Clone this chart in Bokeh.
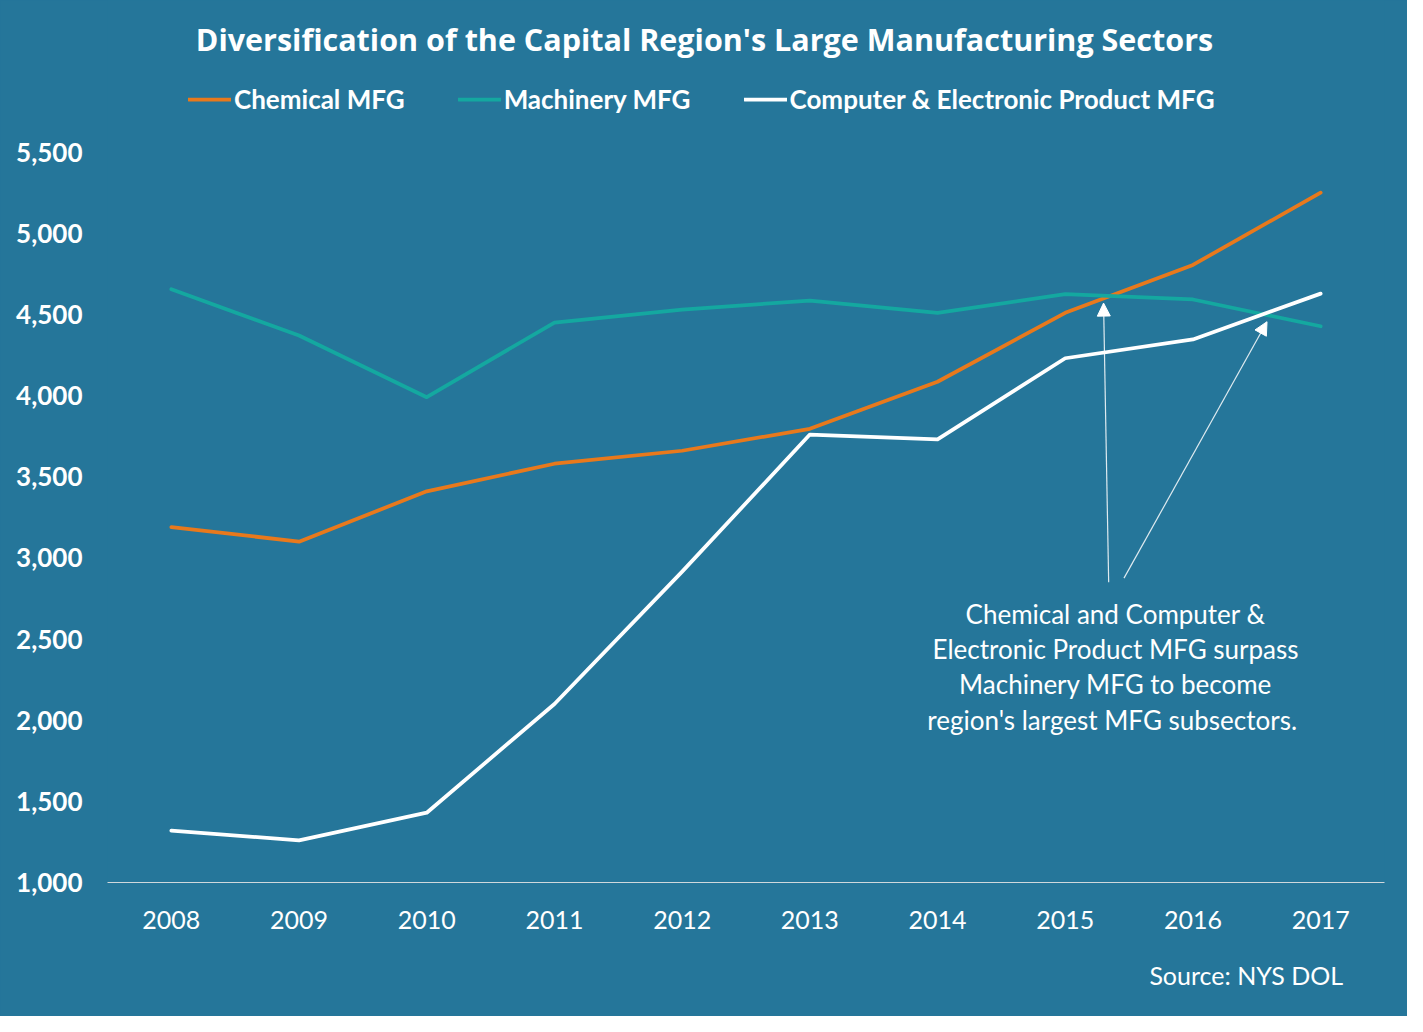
from bokeh.plotting import figure
from bokeh.models import (Range1d, FixedTicker, NumeralTickFormatter, Legend,
                          LegendItem, Label, Arrow, NormalHead, Title)
from bokeh.embed import file_html
from bokeh.resources import INLINE

# ---------------- data ----------------
years = [2008, 2009, 2010, 2011, 2012, 2013, 2014, 2015, 2016, 2017]
chemical = [3190, 3100, 3410, 3580, 3660, 3795, 4085, 4510, 4805, 5250]
machinery = [4655, 4370, 3990, 4450, 4530, 4585, 4510, 4625, 4592, 4427]
computer = [1320, 1260, 1430, 2100, 2915, 3760, 3730, 4230, 4346, 4628]
y_ticks = [1000, 1500, 2000, 2500, 3000, 3500, 4000, 4500, 5000, 5500]
series_names = ["Chemical MFG", "Machinery MFG", "Computer & Electronic Product MFG"]
title_text = "Diversification of the Capital Region's Large Manufacturing Sectors"
note_lines = ["Chemical and Computer &",
              "Electronic Product MFG surpass",
              "Machinery MFG to become",
              "region's largest MFG  subsectors."]
source_text = "Source:  NYS DOL"
# arrow annotations (start x, start y, end x, end y) in data units
arrow1 = (2015.34, 2850, 2015.30, 4570)
arrow2 = (2015.46, 2875, 2016.58, 4455)

BG = "#25769A"
ORANGE = "#E8791C"
TEAL = "#14A8A0"
WHITE = "#FFFFFF"
FONT = "Lato"

# frame spans from the top of the canvas; y range extends above 5,500 so that
# the title and legend sit inside the frame (ticks only up to 5,500)
p = figure(width=1407, height=1016, output_backend="svg", toolbar_location=None,
           x_range=Range1d(2007.5, 2017.5), y_range=Range1d(1000, 6434),
           min_border_left=107, min_border_right=23,
           min_border_top=0, min_border_bottom=134)
p.background_fill_color = BG
p.border_fill_color = BG
p.styles = {"background-color": BG}
p.outline_line_color = None
p.xgrid.visible = False
p.ygrid.visible = False

# axes
p.xaxis.ticker = FixedTicker(ticks=years)
p.xaxis.axis_line_color = "#D0D8DC"
p.xaxis.axis_line_width = 1
p.xaxis.major_tick_line_color = None
p.xaxis.minor_tick_line_color = None
p.xaxis.major_tick_out = 0
p.xaxis.major_tick_in = 0
p.xaxis.major_label_standoff = 28
p.xaxis.major_label_text_color = WHITE
p.xaxis.major_label_text_font = FONT
p.xaxis.major_label_text_font_size = "25px"

p.yaxis.ticker = FixedTicker(ticks=y_ticks)
p.yaxis.formatter = NumeralTickFormatter(format="0,0")
p.yaxis.axis_line_color = None
p.yaxis.major_tick_line_color = None
p.yaxis.minor_tick_line_color = None
p.yaxis.major_tick_out = 0
p.yaxis.major_tick_in = 0
p.yaxis.major_label_standoff = 25
p.yaxis.major_label_text_color = WHITE
p.yaxis.major_label_text_font = FONT
p.yaxis.major_label_text_font_style = "bold"
p.yaxis.major_label_text_font_size = "26px"

# lines
r_chem = p.line(years, chemical, line_color=ORANGE, line_width=3.75,
                line_cap="round", line_join="round")
r_mach = p.line(years, machinery, line_color=TEAL, line_width=3.75,
                line_cap="round", line_join="round")
r_comp = p.line(years, computer, line_color=WHITE, line_width=3.75,
                line_cap="round", line_join="round")

legend = Legend(items=[LegendItem(label=series_names[0], renderers=[r_chem]),
                       LegendItem(label=series_names[1], renderers=[r_mach]),
                       LegendItem(label=series_names[2], renderers=[r_comp])],
                orientation="horizontal", location=(81, 767),
                glyph_width=43, glyph_height=30, label_height=30,
                label_standoff=3, spacing=53, padding=0, margin=0,
                border_line_color=None, background_fill_alpha=0,
                label_text_color=WHITE, label_text_font=FONT,
                label_text_font_style="bold", label_text_font_size="26px",
                label_text_baseline="middle")
p.add_layout(legend, "center")

# title
p.add_layout(Label(x=597, y=843.5, x_units="screen", y_units="screen",
                   text=title_text, text_align="center", text_baseline="middle",
                   text_color=WHITE, text_font="Open Sans", text_font_style="bold",
                   text_font_size="30.5px"))

# annotation text
note_y = [269, 234, 199, 163]
for line, yy in zip(note_lines, note_y):
    p.add_layout(Label(x=1008, y=yy, x_units="screen", y_units="screen",
                       text=line, text_align="center", text_baseline="middle",
                       text_color=WHITE, text_font=FONT, text_font_size="26px"))

# source (below the x axis)
p.add_layout(Title(text=source_text, align="right", offset=35, standoff=53,
                   text_color=WHITE, text_font=FONT, text_font_size="25px",
                   text_font_style="normal"), "below")

# arrows
for a in (arrow1, arrow2):
    p.add_layout(Arrow(x_start=a[0], y_start=a[1], x_end=a[2], y_end=a[3],
                       line_color=WHITE, line_alpha=0.85, line_width=1.2,
                       end=NormalHead(size=13, fill_color=WHITE, line_color=WHITE)))

open("out.html", "w").write(file_html(p, INLINE))
